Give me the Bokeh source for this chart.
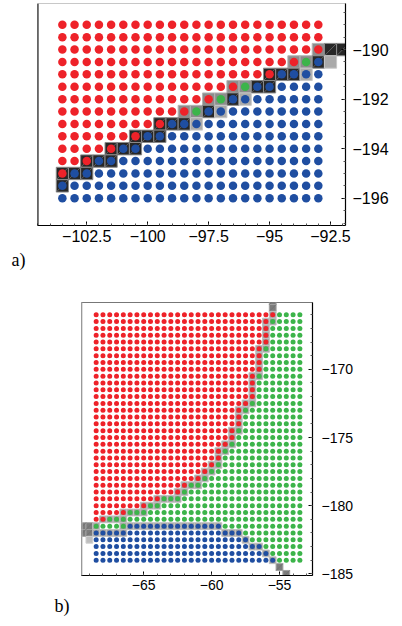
import numpy as np
from bokeh.plotting import figure
from bokeh.models import FixedTicker, Range1d, Title, Span
from bokeh.embed import file_html
from bokeh.resources import INLINE

RED = "#ee2229"
GREEN = "#3cb44a"
BLUE = "#1f4ea1"

# ---------------- panel a ----------------
a_x = [-103.5, -103.0, -102.5, -102.0, -101.5, -101.0, -100.5, -100.0, -99.5, -99.0, -98.5,
       -98.0, -97.5, -97.0, -96.5, -96.0, -95.5, -95.0, -94.5, -94.0, -93.5, -93.0]
a_y = [-189.0, -189.5, -190.0, -190.5, -191.0, -191.5, -192.0, -192.5,
       -193.0, -193.5, -194.0, -194.5, -195.0, -195.5, -196.0]
# phase of each grid point, one string per row (top row first): R red, G green, B blue
a_phase = [
    "R" * 22,
    "R" * 22,
    "R" * 22,
    "R" * 20 + "G" + "B",
    "R" * 18 + "B" * 4,
    "R" * 15 + "G" + "B" * 6,
    "R" * 13 + "G" + "B" * 8,
    "R" * 11 + "G" + "B" * 10,
    "R" * 9 + "B" * 13,
    "R" * 7 + "B" * 15,
    "R" * 5 + "B" * 17,
    "R" * 3 + "B" * 19,
    "R" + "B" * 21,
    "B" * 22,
    "B" * 22,
]
# shaded boundary cells: (y, x from, x to, shade)
a_shade_runs = [
    (-190.0, -93.0, -93.0, "M"), (-190.0, -92.5, -92.0, "D"),
    (-190.5, -94.0, -93.5, "M"), (-190.5, -93.0, -93.0, "D"), (-190.5, -92.5, -92.5, "L"),
    (-191.0, -95.0, -94.0, "D"), (-191.0, -93.5, -93.5, "L"),
    (-191.5, -96.5, -96.0, "M"), (-191.5, -95.5, -95.0, "D"),
    (-192.0, -97.5, -97.0, "M"), (-192.0, -96.5, -96.5, "D"), (-192.0, -96.0, -96.0, "L"),
    (-192.5, -98.5, -98.0, "M"), (-192.5, -97.5, -97.5, "D"), (-192.5, -97.0, -97.0, "L"),
    (-193.0, -99.5, -98.5, "D"), (-193.0, -98.0, -98.0, "L"),
    (-193.5, -100.5, -99.5, "D"),
    (-194.0, -101.5, -100.5, "D"),
    (-194.5, -102.5, -101.5, "D"),
    (-195.0, -103.5, -102.5, "D"),
    (-195.5, -103.5, -103.5, "D"),
]
a_xticks = [-102.5, -100.0, -97.5, -95.0, -92.5]
a_yticks = [-196, -194, -192, -190]

# ---------------- panel b ----------------
b_x = [-68.5, -68.0, -67.5, -67.0, -66.5, -66.0, -65.5, -65.0, -64.5, -64.0, -63.5,
       -63.0, -62.5, -62.0, -61.5, -61.0, -60.5, -60.0, -59.5, -59.0, -58.5, -58.0,
       -57.5, -57.0, -56.5, -56.0, -55.5, -55.0, -54.5, -54.0, -53.5]
b_y = [-166.0, -166.5, -167.0, -167.5, -168.0, -168.5, -169.0, -169.5, -170.0, -170.5,
       -171.0, -171.5, -172.0, -172.5, -173.0, -173.5, -174.0, -174.5, -175.0, -175.5,
       -176.0, -176.5, -177.0, -177.5, -178.0, -178.5, -179.0, -179.5, -180.0, -180.5,
       -181.0, -181.5, -182.0, -182.5, -183.0, -183.5, -184.0]
b_phase = [
    "R" * 27 + "G" * 4,
    "R" * 26 + "G" * 5,
    "R" * 26 + "G" * 5,
    "R" * 26 + "G" * 5,
    "R" * 26 + "G" * 5,
    "R" * 25 + "G" * 6,
    "R" * 25 + "G" * 6,
    "R" * 25 + "G" * 6,
    "R" * 25 + "G" * 6,
    "R" * 24 + "G" * 7,
    "R" * 24 + "G" * 7,
    "R" * 24 + "G" * 7,
    "R" * 24 + "G" * 7,
    "R" * 23 + "G" * 8,
    "R" * 22 + "G" * 9,
    "R" * 22 + "G" * 9,
    "R" * 22 + "G" * 9,
    "R" * 21 + "G" * 10,
    "R" * 21 + "G" * 10,
    "R" * 20 + "G" * 11,
    "R" * 19 + "G" * 12,
    "R" * 19 + "G" * 12,
    "R" * 18 + "G" * 13,
    "R" * 17 + "G" * 14,
    "R" * 16 + "G" * 15,
    "R" * 14 + "G" * 17,
    "R" * 13 + "G" * 18,
    "R" * 10 + "G" * 21,
    "R" * 8 + "G" * 23,
    "R" * 5 + "G" * 26,
    "R" * 2 + "G" * 29,
    "G" * 5 + "B" * 14 + "G" * 12,
    "B" * 22 + "G" * 9,
    "B" * 23 + "G" * 8,
    "B" * 25 + "G" * 6,
    "B" * 26 + "G" * 5,
    "B" * 27 + "G" * 4,
]
b_shade_runs = [
    (-165.0, -55.5, -55.5, "E"), (-165.5, -55.5, -55.5, "E"),
    (-166.0, -55.5, -55.5, "M"),
    (-166.5, -56.0, -55.5, "M"),
    (-167.0, -56.0, -56.0, "M"), (-167.5, -56.0, -56.0, "M"), (-168.0, -56.0, -56.0, "M"),
    (-168.5, -56.5, -56.0, "M"),
    (-169.0, -56.5, -56.5, "M"), (-169.5, -56.5, -56.5, "M"), (-170.0, -56.5, -56.5, "M"),
    (-170.5, -57.0, -56.5, "M"),
    (-171.0, -57.0, -57.0, "M"), (-171.5, -57.0, -57.0, "M"), (-172.0, -57.0, -57.0, "M"),
    (-172.5, -57.5, -57.0, "M"),
    (-173.0, -58.0, -57.5, "M"),
    (-173.5, -58.0, -58.0, "M"), (-174.0, -58.0, -58.0, "M"),
    (-174.5, -58.5, -58.0, "M"),
    (-175.0, -58.5, -58.5, "M"),
    (-175.5, -59.0, -58.5, "M"),
    (-176.0, -59.5, -59.0, "M"),
    (-176.5, -59.5, -59.5, "M"),
    (-177.0, -60.0, -59.5, "M"),
    (-177.5, -60.5, -60.0, "M"),
    (-178.0, -61.0, -60.5, "M"),
    (-178.5, -62.0, -61.0, "M"),
    (-179.0, -62.5, -62.0, "M"),
    (-179.5, -64.0, -62.5, "M"),
    (-180.0, -65.0, -64.0, "M"),
    (-180.5, -66.5, -65.0, "M"),
    (-181.0, -68.0, -66.5, "M"),
    (-181.5, -69.5, -69.0, "E"), (-181.5, -68.5, -68.5, "M"), (-181.5, -66.5, -59.5, "M"),
    (-182.0, -69.5, -69.0, "E"), (-182.0, -68.5, -66.5, "M"), (-182.0, -59.0, -58.0, "M"),
    (-182.5, -69.0, -69.0, "L"), (-182.5, -57.5, -57.5, "M"),
    (-183.0, -57.0, -56.5, "M"),
    (-183.5, -56.0, -56.0, "M"),
    (-184.0, -55.5, -55.5, "M"),
    (-184.5, -55.0, -55.0, "E"),
    (-185.0, -54.5, -54.5, "E"),
]
b_xticks = [-65, -60, -55]
b_yticks = [-185, -180, -175, -170]

for r in a_phase:
    assert len(r) == len(a_x)
for r in b_phase:
    assert len(r) == len(b_x)
assert len(a_phase) == len(a_y) and len(b_phase) == len(b_y)


def label(v):
    return ("%g" % v).replace("-", "\u2212")


def phase_points(xs, ys, rows):
    pts = {"R": ([], []), "G": ([], []), "B": ([], [])}
    for y, row in zip(ys, rows):
        for x, c in zip(xs, row):
            pts[c][0].append(x)
            pts[c][1].append(y)
    return pts


def shade_cells(runs):
    cells = {}
    for y, x0, x1, kind in runs:
        n = int(round((x1 - x0) / 0.5)) + 1
        for i in range(n):
            cells.setdefault(kind, ([], []))
            cells[kind][0].append(x0 + 0.5 * i)
            cells[kind][1].append(y)
    return cells


def make_panel(xs, ys, phase, runs, xr, yr, xticks, yticks, xminor, yminor,
               frame_w, frame_h, borders, dot_size, font_size, shades, diag_kinds,
               outline_color, left_color, tag, tag_offset, tag_standoff, x_standoff, y_standoff):
    p = figure(frame_width=frame_w, frame_height=frame_h,
               x_range=Range1d(*xr), y_range=Range1d(*yr),
               y_axis_location="right", output_backend="svg", toolbar_location=None,
               min_border_left=borders[0], min_border_right=borders[1],
               min_border_top=borders[2], min_border_bottom=borders[3])
    p.grid.visible = False
    p.background_fill_color = "white"
    p.border_fill_color = "white"
    p.outline_line_color = outline_color
    p.outline_line_width = 1

    cells = shade_cells(runs)
    for kind, (cx, cy) in cells.items():
        fill, line = shades[kind]
        p.rect(cx, cy, width=0.5, height=0.5, fill_color=fill, line_color=line, line_width=1)
        if kind in diag_kinds:
            p.segment([x - 0.25 for x in cx], [y - 0.25 for y in cy],
                      [x + 0.25 for x in cx], [y + 0.25 for y in cy],
                      line_color="#6e6e6e", line_width=0.8)

    pts = phase_points(xs, ys, phase)
    for key, col in (("R", RED), ("G", GREEN), ("B", BLUE)):
        px, py = pts[key]
        if px:
            p.scatter(px, py, size=dot_size, fill_color=col, line_color=None, marker="circle")

    for ax, ticks, minor, stand in ((p.xaxis[0], xticks, xminor, x_standoff),
                                    (p.yaxis[0], yticks, yminor, y_standoff)):
        ax.ticker = FixedTicker(ticks=ticks, minor_ticks=minor)
        ax.major_label_overrides = {t: label(t) for t in ticks}
        ax.major_label_text_font = "Liberation Sans"
        ax.major_label_text_font_size = font_size
        ax.major_label_text_color = "black"
        ax.major_label_standoff = stand
        ax.axis_line_color = "black"
        ax.axis_line_width = 1.2
        ax.major_tick_in = 4
        ax.major_tick_out = 0
        ax.minor_tick_in = 2
        ax.minor_tick_out = 0
        ax.major_tick_line_color = "black"
        ax.minor_tick_line_color = "#555555"

    p.add_layout(Span(location=xr[0], dimension="height", line_color=left_color,
                      line_width=2))

    t = Title(text=tag, align="left", offset=tag_offset, standoff=tag_standoff,
              text_font="Liberation Serif", text_font_size="18px",
              text_font_style="normal", text_color="black")
    p.add_layout(t, "below")
    return p


pa = make_panel(
    a_x, a_y, a_phase, a_shade_runs,
    (-104.52, -91.885), (-197.10, -188.14),
    a_xticks, a_yticks,
    list(np.arange(-104.5, -91.9, 0.5)), list(np.arange(-197.0, -188.1, 0.5)),
    308, 222, (37, 57, 3, 62), 8.5, "16px",
    {"D": ("#272727", "#8a8a8a"), "M": ("#8c8c8c", "#b4b4b4"), "L": ("#aaaaaa", "#c8c8c8")},
    ("D",), "#c8c8c8", "black", "a)", -26, 6, 4, 7)

pb = make_panel(
    b_x, b_y, b_phase, b_shade_runs,
    (-69.58, -52.57), (-185.12, -165.10),
    b_xticks, b_yticks,
    list(np.arange(-69.0, -52.5, 1.0)), list(np.arange(-185.0, -165.0, 1.0)),
    231, 273, (81, 90, 15, 51), 5, "14px",
    {"M": ("#a0a0a0", "#c2c2c2"), "E": ("#7c7c7c", "#a0a0a0"), "L": ("#bdbdbd", "#d0d0d0")},
    ("E",), "#777777", "#bbbbbb", "b)", -27, 2, 4, 9)

open("out.html", "w").write(file_html([pa, pb], INLINE))
